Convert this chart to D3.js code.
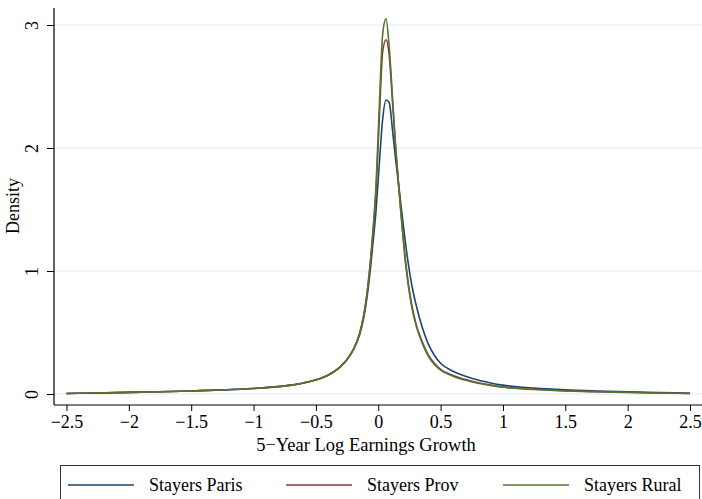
<!DOCTYPE html>
<html>
<head>
<meta charset="utf-8">
<script src="https://cdn.jsdelivr.net/npm/d3@7"></script>
<style>
  body { margin: 0; background: #fff; }
  svg { display: block; font-family: "Liberation Serif", "Times New Roman", serif; }
</style>
</head>
<body>
<svg id="chart" width="702" height="499"></svg>
<script>
// evaluation grid (log earnings growth)
const grid = [-2.5, -2.25, -2, -1.75, -1.5, -1.25, -1, -0.9, -0.8, -0.7, -0.6, -0.5, -0.45, -0.4,
  -0.35, -0.3, -0.25, -0.2, -0.15, -0.12, -0.095, -0.069, -0.043, -0.017, 0.009, 0.035, 0.062,
  0.088, 0.114, 0.14, 0.166, 0.192, 0.218, 0.244, 0.27, 0.3, 0.35, 0.4, 0.45, 0.5, 0.6, 0.7,
  0.8, 0.9, 1, 1.25, 1.5, 1.75, 2, 2.25, 2.5];

const paris = [0.004, 0.008, 0.013, 0.018, 0.025, 0.033, 0.045, 0.052, 0.06, 0.072, 0.09, 0.115,
  0.133, 0.155, 0.185, 0.225, 0.28, 0.36, 0.48, 0.6, 0.75, 0.96, 1.22, 1.5, 1.88, 2.23, 2.39,
  2.37, 2.15, 1.9, 1.68, 1.45, 1.23, 1.04, 0.88, 0.74, 0.55, 0.41, 0.315, 0.25, 0.185, 0.145,
  0.113, 0.09, 0.072, 0.048, 0.034, 0.025, 0.018, 0.012, 0.006];

const prov = [0.004, 0.008, 0.013, 0.018, 0.025, 0.033, 0.045, 0.052, 0.06, 0.072, 0.09, 0.115,
  0.133, 0.155, 0.185, 0.225, 0.28, 0.36, 0.49, 0.62, 0.78, 1.0, 1.3, 1.66, 2.25, 2.78, 2.88,
  2.75, 2.38, 2.0, 1.67, 1.37, 1.09, 0.88, 0.72, 0.58, 0.43, 0.32, 0.25, 0.2, 0.15, 0.118,
  0.092, 0.073, 0.058, 0.038, 0.027, 0.019, 0.014, 0.009, 0.005];

const rural = [0.004, 0.008, 0.013, 0.018, 0.025, 0.033, 0.045, 0.052, 0.06, 0.072, 0.09, 0.115,
  0.133, 0.155, 0.185, 0.225, 0.28, 0.36, 0.49, 0.62, 0.78, 1.02, 1.32, 1.72, 2.35, 2.92, 3.05,
  2.82, 2.42, 2.0, 1.66, 1.35, 1.07, 0.86, 0.70, 0.57, 0.42, 0.31, 0.24, 0.195, 0.145, 0.112,
  0.088, 0.07, 0.056, 0.036, 0.025, 0.018, 0.013, 0.008, 0.004];

const seriesNames = ["Stayers Paris", "Stayers Prov", "Stayers Rural"];
const seriesValues = [paris, prov, rural];
const colors = ["#1a476f", "#90353b", "#55752f"];

const xTicks = [-2.5, -2, -1.5, -1, -0.5, 0, 0.5, 1, 1.5, 2, 2.5];
const yTicks = [0, 1, 2, 3];

const svg = d3.select("#chart");

const x = d3.scaleLinear().domain([-2.5, 2.5]).range([66.5, 690]);
const y = d3.scaleLinear().domain([0, 3]).range([394, 25]);

const axisX = 54, axisY = 405, plotTop = 8, plotRight = 702;

const fmt = d => (d < 0 ? "\u2212" + Math.abs(d) : String(d));

// grid lines
svg.append("g")
  .selectAll("line")
  .data(yTicks)
  .join("line")
    .attr("x1", axisX).attr("x2", plotRight)
    .attr("y1", d => y(d)).attr("y2", d => y(d))
    .attr("stroke", "#eaf2f3")
    .attr("stroke-width", 1.5);

// density curves
const line = d3.line()
  .x((d, i) => x(grid[i]))
  .y(d => y(d))
  .curve(d3.curveMonotoneX);

svg.append("g")
  .selectAll("path")
  .data(seriesValues)
  .join("path")
    .attr("d", d => line(d))
    .attr("fill", "none")
    .attr("stroke", (d, i) => colors[i])
    .attr("stroke-width", 1.6)
    .attr("stroke-linejoin", "round");

// x axis
const gx = svg.append("g")
  .attr("transform", `translate(0, ${ axisY })`)
  .call(d3.axisBottom(x).tickValues(xTicks).tickFormat(fmt).tickSize(6).tickPadding(4));
gx.select(".domain").remove();
gx.append("line")
  .attr("x1", axisX).attr("x2", plotRight)
  .attr("stroke", "#000").attr("stroke-width", 1.2);
gx.selectAll(".tick text")
  .attr("font-family", "Liberation Serif")
  .attr("font-size", 18)
  .attr("fill", "#000");

// y axis
const gy = svg.append("g")
  .attr("transform", `translate(${ axisX }, 0)`)
  .call(d3.axisLeft(y).tickValues(yTicks).tickSize(7).tickFormat(d3.format("d")));
gy.select(".domain").remove();
gy.append("line")
  .attr("y1", plotTop).attr("y2", axisY)
  .attr("stroke", "#000").attr("stroke-width", 1.2);
gy.selectAll(".tick text")
  .attr("font-family", "Liberation Serif")
  .attr("font-size", 18)
  .attr("fill", "#000")
  .attr("x", 0).attr("dy", 0)
  .attr("text-anchor", "middle")
  .attr("transform", "translate(-22, 0) rotate(-90)")
  .attr("dominant-baseline", "central");

// axis titles
svg.append("text")
  .attr("x", 366).attr("y", 451)
  .attr("text-anchor", "middle")
  .attr("font-size", 18.5)
  .text("5\u2212Year Log Earnings Growth");

svg.append("text")
  .attr("transform", "translate(13, 206) rotate(-90)")
  .attr("text-anchor", "middle")
  .attr("dominant-baseline", "central")
  .attr("font-size", 18)
  .text("Density");

// legend
const legend = svg.append("g");
legend.append("rect")
  .attr("x", 60.5).attr("y", 465.5)
  .attr("width", 639).attr("height", 50)
  .attr("fill", "#fff")
  .attr("stroke", "#333")
  .attr("stroke-width", 1);

const legendX = [68, 286, 503];
const item = legend.selectAll("g.item")
  .data(seriesNames)
  .join("g")
    .attr("class", "item")
    .attr("transform", (d, i) => `translate(${ legendX[i] }, 485)`);
item.append("line")
  .attr("x1", 0).attr("x2", 66)
  .attr("stroke", (d, i) => colors[i])
  .attr("stroke-width", 1.6);
item.append("text")
  .attr("x", 81).attr("y", 6)
  .attr("font-size", 18)
  .text(d => d);
</script>
</body>
</html>
